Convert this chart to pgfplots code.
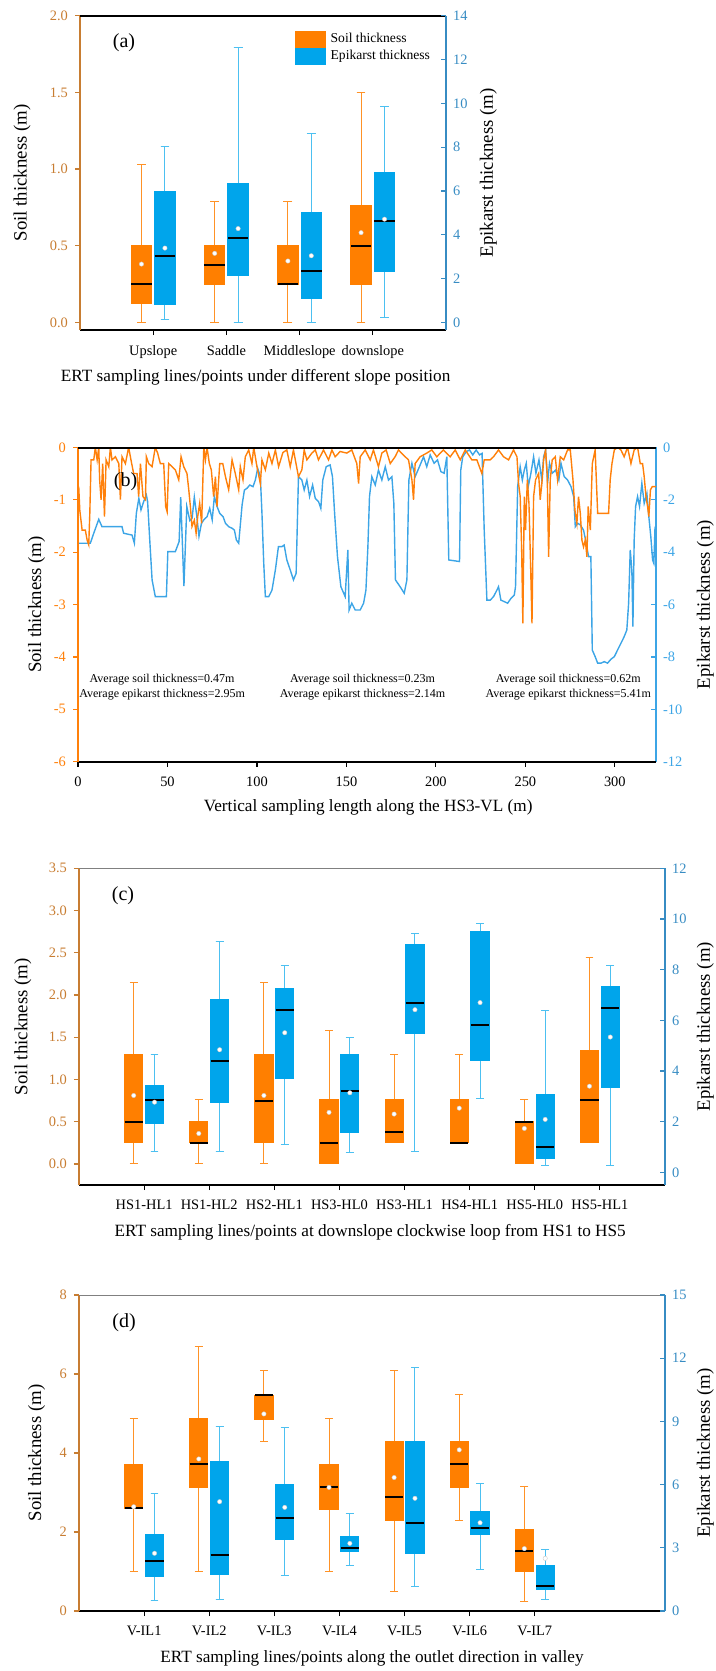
\documentclass[border=0pt]{standalone}
\usepackage{fontspec}
\setmainfont{Liberation Serif}
\usepackage{pgfplots}
\usepackage{pgfplotstable}
\pgfplotsset{compat=1.18}
\usepgfplotslibrary{statistics}

\definecolor{soilc}{RGB}{255,127,0}
\definecolor{epic}{RGB}{0,165,235}
\definecolor{laxis}{RGB}{200,125,50}
\definecolor{raxis}{RGB}{55,140,195}
\definecolor{bline}{RGB}{60,165,230}
\definecolor{oline}{RGB}{255,128,10}

\newcommand{\tickf}{\fontsize{7.2}{8}\selectfont}
\newcommand{\labf}{\fontsize{9.4}{10}\selectfont}
\newcommand{\xlabf}{\fontsize{8.6}{10}\selectfont}

\pgfplotsset{
  leftax/.style={scale only axis, anchor=south west,
    axis x line*=bottom, axis y line*=left,
    x axis line style={black, line width=0.7pt},
    y axis line style={laxis, line width=0.7pt},
    tick align=outside, major tick length=2.5pt,
    x tick style={black, line width=0.6pt},
    y tick style={laxis, line width=0.6pt},
    yticklabel style={font=\tickf, text=laxis},
    xticklabel style={font=\tickf, text=black, yshift=-1.5pt},
    ylabel style={font=\labf, anchor=center},
    xlabel style={font=\xlabf, anchor=center}},
  rightax/.style={scale only axis, anchor=south west,
    axis x line=none, axis y line*=right,
    y axis line style={raxis, line width=0.7pt},
    tick align=inside, major tick length=2.5pt,
    y tick style={raxis, line width=0.6pt},
    yticklabel style={font=\tickf, text=raxis},
    ylabel style={font=\labf, anchor=center}},
  soilbox/.style={forget plot, fill=soilc, draw=soilc, line width=0.5pt,
    boxplot/draw direction=y,
    boxplot/box extend=0.28, boxplot/whisker extend=0.12,
    boxplot/every whisker/.style={draw=soilc!85, line width=0.5pt},
    boxplot/every median/.style={draw=black, line width=1pt}},
  epibox/.style={forget plot, fill=epic, draw=epic, line width=0.5pt,
    boxplot/draw direction=y,
    boxplot/box extend=0.28, boxplot/whisker extend=0.12,
    boxplot/every whisker/.style={draw=epic!70, line width=0.5pt},
    boxplot/every median/.style={draw=black, line width=1pt}},
  meanmk/.style={forget plot, only marks, mark=*, mark size=1.1pt,
    mark options={fill=white, draw=gray!40, line width=0.2pt}},
}

% #1 table, #2 last row, #3 offset, #4 style
\newcommand{\boxes}[4]{%
  \pgfplotsinvokeforeach{0,...,#2}{
    \pgfplotstablegetelem{##1}{lw}\of{#1}\let\bLW\pgfplotsretval
    \pgfplotstablegetelem{##1}{lq}\of{#1}\let\bLQ\pgfplotsretval
    \pgfplotstablegetelem{##1}{med}\of{#1}\let\bMED\pgfplotsretval
    \pgfplotstablegetelem{##1}{uq}\of{#1}\let\bUQ\pgfplotsretval
    \pgfplotstablegetelem{##1}{uw}\of{#1}\let\bUW\pgfplotsretval
    \pgfmathsetmacro\bPOS{##1+1#3}
    \edef\bCMD{\noexpand\addplot[#4, boxplot prepared={draw direction=y, draw position=\bPOS,
      lower whisker=\bLW, lower quartile=\bLQ, median=\bMED,
      upper quartile=\bUQ, upper whisker=\bUW}] coordinates {};}
    \bCMD
  }
  \addplot[meanmk] table[x expr=\thisrow{pos}#3, y=mean] {#1};
}

% panel (a)
\pgfplotstableread{
pos lw lq med uq uw mean
1 0 0.12 0.25 0.50 1.03 0.38
2 0 0.25 0.375 0.50 0.79 0.45
3 0 0.25 0.25 0.50 0.79 0.40
4 0 0.25 0.50 0.76 1.50 0.585
}\soilA
\pgfplotstableread{
pos lw lq med uq uw mean
1 0.15 0.82 3.02 5.97 8.03 3.39
2 0 2.16 3.87 6.34 12.53 4.28
3 0 1.08 2.33 5.02 8.60 3.04
4 0.23 2.30 4.62 6.84 9.85 4.71
}\epiA
% panel (c)
\pgfplotstableread{
pos lw lq med uq uw mean
1 0 0.25 0.50 1.30 2.15 0.81
2 0 0.25 0.25 0.50 0.76 0.36
3 0 0.25 0.75 1.30 2.15 0.81
4 0 0 0.25 0.76 1.58 0.61
5 0.25 0.25 0.38 0.76 1.30 0.59
6 0.25 0.25 0.25 0.76 1.30 0.66
7 0 0 0.50 0.50 0.76 0.42
8 0.25 0.25 0.76 1.34 2.44 0.92
}\soilC
\pgfplotstableread{
pos lw lq med uq uw mean
1 0.82 1.94 2.84 3.41 4.66 2.77
2 0.82 2.75 4.40 6.82 9.13 4.84
3 1.11 3.70 6.42 7.25 8.18 5.51
4 0.77 1.56 3.23 4.66 5.34 3.14
5 0.82 5.47 6.70 8.99 9.43 6.42
6 2.90 4.40 5.80 9.49 9.82 6.70
7 0.26 0.53 1.02 3.06 6.40 2.09
8 0.26 3.33 6.50 7.35 8.18 5.34
}\epiC
% panel (d)
\pgfplotstableread{
pos lw lq med uq uw mean
1 1.00 2.60 2.60 3.71 4.88 2.64
2 1.00 3.13 3.71 4.88 6.69 3.85
3 4.29 4.86 5.46 5.46 6.08 4.99
4 1.00 2.58 3.13 3.71 4.88 3.13
5 0.49 2.29 2.88 4.29 6.08 3.38
6 2.30 3.13 3.71 4.29 5.47 4.08
7 0.25 1.00 1.53 2.07 3.15 1.58
}\soilD
\pgfplotstableread{
pos lw lq med uq uw mean
1 0.49 1.66 2.37 3.64 5.59 2.74
2 0.55 1.71 2.64 7.09 8.78 5.19
3 1.68 3.40 4.43 6.01 8.72 4.92
4 2.18 2.82 2.97 3.56 4.64 3.21
5 1.15 2.74 4.19 8.07 11.57 5.35
6 1.95 3.61 3.92 4.72 6.06 4.19
7 0.57 1.03 1.19 2.18 2.90 2.50
}\epiD
% panel (b) profiles
\pgfplotstableread{
x y
0 -3.66
6.9 -3.66
8.8 -3.28
11.6 -2.75
13.4 -3.03
24.6 -3.03
25.5 -3.28
30.2 -3.35
31.5 -3.66
32.6 -2.52
34.0 -1.95
35.2 -2.39
36.7 -2.07
38.2 -1.82
38.9 -2.07
40.1 -3.54
41.4 -5.06
43.2 -5.70
49.4 -5.70
50.2 -3.98
54.4 -3.98
56.5 -3.60
57.4 -1.90
59.2 -5.30
60.8 -2.26
62.5 -2.80
63.8 -2.70
65.0 -1.90
66.3 -2.58
67.6 -3.40
69.0 -2.90
70.3 -2.77
72.1 -2.65
73.6 -2.33
75.0 -2.77
76.2 -1.88
77.7 -2.26
79.2 -2.52
81.1 -2.65
82.4 -2.90
84.2 -3.03
86.1 -3.09
87.4 -3.16
88.5 -3.54
89.8 -3.66
91.7 -2.20
93.0 -1.63
94.5 -1.56
96.0 -1.44
97.8 -1.50
99.1 -1.25
100.4 -0.80
101.9 -1.12
102.8 -2.52
103.8 -4.43
104.7 -5.70
106.6 -5.70
108.4 -5.45
110.3 -4.68
112.0 -3.79
114.0 -3.79
115.2 -3.73
116.7 -4.30
118.6 -4.68
120.4 -5.06
121.9 -4.81
123.2 -1.12
125.1 -1.25
126.4 -1.63
127.9 -1.25
129.4 -1.88
131.1 -1.44
132.6 -1.95
134.4 -2.07
135.7 -2.33
136.8 -1.25
138.7 -0.74
140.9 -0.67
142.2 -1.12
143.4 -2.52
145.0 -4.17
146.9 -5.32
149.3 -5.70
150.8 -3.92
151.5 -6.21
153.0 -5.95
154.9 -6.21
157.7 -6.21
159.6 -5.95
160.9 -5.45
162.0 -3.79
162.9 -1.88
164.2 -1.12
166.1 -1.44
167.9 -0.87
169.8 -1.25
171.7 -0.74
173.5 -1.25
175.4 -1.12
176.5 -2.14
177.4 -5.06
180.0 -5.32
182.3 -5.57
183.8 -5.06
184.9 -1.25
186.6 -0.61
188.4 -1.12
190.8 -0.74
193.1 -0.36
194.9 -0.74
196.8 -0.29
199.0 -0.61
200.9 -0.48
202.8 -0.93
204.6 -0.99
206.1 -0.36
207.2 -4.30
213.2 -4.36
213.9 -0.87
215.0 -0.36
216.9 -0.17
218.8 -0.10
220.6 -0.29
222.5 -0.10
224.4 -0.29
225.8 -0.23
227.0 -3.16
228.5 -5.83
230.4 -5.83
232.2 -5.70
234.1 -5.45
235.0 -5.32
236.3 -5.83
238.2 -5.89
240.1 -5.95
242.0 -5.76
243.8 -5.64
244.5 -5.32
245.7 -1.50
247.1 -0.74
248.3 -1.25
249.4 -0.87
250.5 -0.61
251.6 -1.50
253.1 -0.99
254.6 -0.36
255.9 -0.99
257.6 -0.48
259.2 -1.25
260.2 -0.36
261.3 -0.10
262.4 -1.37
263.5 -0.61
265.0 -0.99
266.9 -0.87
268.7 -1.25
269.9 -0.61
271.7 -1.12
273.6 -1.25
275.5 -1.50
277.0 -1.88
277.9 -3.03
279.2 -2.90
280.7 -2.96
282.5 -3.16
284.0 -3.66
285.3 -4.17
286.6 -4.17
287.4 -7.74
289.0 -7.99
290.4 -8.24
292.2 -8.24
294.1 -8.18
295.9 -8.24
297.8 -8.09
299.7 -7.99
301.5 -7.74
303.4 -7.48
305.2 -7.23
306.7 -6.97
307.7 -5.95
308.6 -3.92
309.5 -4.68
310.1 -6.84
310.8 -3.54
311.6 -2.26
312.7 -1.88
313.8 -2.26
315.1 -1.37
316.4 -2.14
317.9 -1.76
319.0 -2.65
320.1 -3.41
321.1 -4.30
321.8 -4.43
322.4 -3.16
323.0 -3.28
}\epiB
\pgfplotstableread{
x y
0.4 -0.75
1.0 -1.20
2.3 -1.58
4.1 -1.58
5.1 -1.77
6.0 -1.86
6.6 -1.26
7.3 -0.24
8.8 -0.24
9.7 0
10.7 -0.24
11.6 0
12.1 -0.62
12.9 -1.00
13.8 -0.31
14.8 -1.32
15.7 -0.24
17.2 -0.37
18.1 0
19.0 -0.24
20.9 -0.18
22.8 -0.31
23.7 -1.00
24.6 -0.18
26.5 -0.31
28.3 0
29.6 -0.24
31.1 -0.50
33.0 -0.50
33.9 -0.94
34.9 -0.31
36.3 -0.94
37.7 -1.00
38.2 -0.18
39.5 -0.31
41.4 -0.37
43.2 0
44.5 -0.11
46.0 -0.31
47.9 -0.31
49.0 -1.13
49.8 -1.23
50.7 -0.31
52.6 -0.37
54.4 -0.43
56.3 -0.62
57.6 -0.18
59.1 -0.37
60.9 -0.50
61.9 -0.81
62.8 -1.13
63.7 -1.51
65.0 -1.39
66.0 -1.64
66.9 -1.32
68.0 -1.07
69.1 -1.45
70.3 0
71.2 -0.24
72.1 0
73.4 -0.31
74.5 -0.43
75.8 -0.94
76.8 -0.56
77.7 -1.13
79.2 -0.31
80.9 -0.31
82.4 -0.56
84.2 -0.81
86.1 -0.24
87.9 -0.50
89.8 -0.81
90.7 -0.37
92.2 -0.62
93.5 -0.18
95.4 -0.05
97.2 -0.31
98.2 0
100.0 -0.37
101.9 -0.69
102.8 -0.24
104.7 -0.43
106.6 -0.11
108.4 -0.31
110.3 -0.05
112.1 -0.37
114.5 -0.10
116.7 -0.05
118.6 -0.37
120.4 -0.05
123.2 -0.56
125.1 -0.43
126.4 -0.05
127.9 -0.24
130.7 -0.11
132.6 -0.05
134.4 -0.24
137.2 -0.05
140.0 -0.24
141.9 -0.05
143.7 -0.18
146.5 -0.08
150.2 -0.11
153.0 -0.05
155.8 -0.31
156.8 -0.69
157.7 -0.18
160.5 -0.05
163.3 -0.24
165.1 -0.05
167.9 -0.37
169.8 -0.11
172.2 -0.05
174.5 -0.31
177.2 -0.18
179.1 -0.05
181.9 -0.15
184.7 -0.24
186.6 -0.62
187.5 -1.00
188.4 -0.31
191.2 -0.18
194.9 -0.11
197.7 -0.05
200.5 -0.18
204.2 -0.05
208.0 -0.18
210.8 -0.05
213.6 -0.24
216.4 -0.05
220.1 -0.24
222.9 -0.24
225.7 -0.50
227.0 -0.24
230.3 -0.24
232.2 -0.18
235.0 -0.05
237.8 -0.18
240.6 -0.24
243.4 -0.05
245.3 -0.18
246.2 -0.69
247.1 -0.94
247.9 -1.90
248.6 -3.36
249.4 -0.94
250.1 -1.58
251.1 -0.62
252.0 -1.07
252.9 -2.21
253.7 -3.36
254.6 -0.94
255.7 -0.62
257.4 -0.50
258.3 -1.00
259.4 -0.62
260.2 -0.24
261.3 -0.05
262.2 -0.50
263.0 -2.09
263.9 -0.62
265.0 -0.24
266.7 -0.18
268.0 -0.62
269.5 -0.18
271.4 -0.24
273.6 -0.05
275.1 -0.05
276.6 -0.62
277.7 -1.20
278.8 -1.45
279.7 -0.94
280.7 -1.26
281.6 -1.77
282.5 -1.90
283.5 -1.77
284.4 -2.09
285.1 -1.13
286.3 -1.58
287.4 -0.31
289.0 -0.05
290.4 -1.26
292.8 -1.26
294.6 -1.26
296.5 -1.26
297.4 -0.62
298.4 -0.31
299.7 -0.05
301.5 0
303.4 -0.05
305.2 -0.18
307.1 0
309.0 -0.31
310.8 -0.05
312.7 0
314.2 -0.31
315.5 -0.31
316.4 -0.56
317.4 -0.94
318.3 -1.13
319.0 -1.32
319.9 -0.81
320.9 -0.75
323.0 -0.75
}\soilB

\begin{document}
\begin{tikzpicture}
\useasboundingbox (0,0) rectangle (358pt,-835.5pt);

% ---------------- (a)
\begin{axis}[leftax, at={(40pt,-165pt)}, width=183pt, height=157.15pt,
  xmin=0, xmax=5, ymin=-0.05, ymax=2,
  xtick={1,2,3,4}, xticklabels={Upslope,Saddle,Middleslope,downslope},
  ytick={0,0.5,1,1.5,2}, yticklabels={0.0,0.5,1.0,1.5,2.0},
  ylabel={Soil thickness (m)}, xlabel={ERT sampling lines/points under different slope position},
  ylabel style={at={(axis description cs:-0.158,0.5)}},
  xlabel style={at={(axis description cs:0.48,-0.15)}},
  legend style={draw=none, fill=none, at={(0.586,0.954)}, anchor=north west,
    font=\fontsize{6.8}{7}\selectfont, inner sep=0pt, row sep=0.3pt, column sep=2.5pt,
    nodes={inner sep=0pt}},
  legend cell align=left]
\addlegendimage{legend image code/.code={\fill[soilc] (0pt,-4pt) rectangle (15pt,4pt);}}
\addlegendentry{Soil thickness}
\addlegendimage{legend image code/.code={\fill[epic] (0pt,-4pt) rectangle (15pt,4pt);}}
\addlegendentry{Epikarst thickness}
\boxes{\soilA}{3}{-0.16}{soilbox}
\draw[black, line width=1.2pt] (rel axis cs:0,1) -- (rel axis cs:1,1);
\end{axis}
\begin{axis}[rightax, at={(40pt,-165pt)}, width=183pt, height=157.15pt,
  xmin=0, xmax=5, ymin=-0.35, ymax=14,
  ytick={0,2,...,14}, yticklabels={0,2,4,6,8,10,12,14},
  ylabel={Epikarst thickness (m)},
  ylabel style={at={(axis description cs:1.116,0.5)}}]
\boxes{\epiA}{3}{+0.16}{epibox}
\end{axis}

% ---------------- (b)
\begin{axis}[rightax, at={(39pt,-380.85pt)}, width=289pt, height=157.2pt,
  xmin=0, xmax=323, ymin=-12, ymax=0,
  y axis line style={bline, line width=0.8pt}, y tick style={bline}, yticklabel style={text=bline},
  ytick={-12,-10,...,0}, yticklabels={-12,-10,-8,-6,-4,-2,0},
  ylabel={Epikarst thickness (m)},
  ylabel style={at={(axis description cs:1.0855,0.5)}}]
\addplot[bline, line width=0.7pt] table {\epiB};
\end{axis}
\begin{axis}[leftax, at={(39pt,-380.85pt)}, width=289pt, height=157.2pt,
  xmin=0, xmax=323, ymin=-6, ymax=0,
  y axis line style={oline, line width=0.8pt}, y tick style={oline}, yticklabel style={text=oline},
  xtick={0,50,...,300}, xticklabels={0,50,100,150,200,250,300},
  ytick={-6,-5,...,0}, yticklabels={-6,-5,-4,-3,-2,-1,0},
  ylabel={Soil thickness (m)}, xlabel={Vertical sampling length along the HS3-VL (m)},
  ylabel style={at={(axis description cs:-0.0716,0.5)}},
  xlabel style={at={(axis description cs:0.502,-0.144)}},
  x axis line style={line width=1pt}]
\addplot[oline, line width=0.7pt] table {\soilB};
\draw[black, line width=1.2pt] (rel axis cs:0,1) -- (rel axis cs:1,1);
\node[font=\fontsize{6}{7.5}\selectfont, align=center] at (axis cs:47,-4.58)
  {Average soil thickness=0.47m\\Average epikarst thickness=2.95m};
\node[font=\fontsize{6}{7.5}\selectfont, align=center] at (axis cs:159,-4.58)
  {Average soil thickness=0.23m\\Average epikarst thickness=2.14m};
\node[font=\fontsize{6}{7.5}\selectfont, align=center] at (axis cs:274,-4.58)
  {Average soil thickness=0.62m\\Average epikarst thickness=5.41m};
\end{axis}

% ---------------- (c)
\begin{axis}[leftax, at={(39.5pt,-592.5pt)}, width=293pt, height=158.35pt,
  xmin=0, xmax=9, ymin=-0.25, ymax=3.5,
  xtick={1,...,8}, xticklabels={HS1-HL1,HS1-HL2,HS2-HL1,HS3-HL0,HS3-HL1,HS4-HL1,HS5-HL0,HS5-HL1},
  ytick={0,0.5,...,3.5}, yticklabels={0.0,0.5,1.0,1.5,2.0,2.5,3.0,3.5},
  ylabel={Soil thickness (m)}, xlabel={ERT sampling lines/points at downslope clockwise loop from HS1 to HS5},
  ylabel style={at={(axis description cs:-0.096,0.5)}},
  xlabel style={at={(axis description cs:0.497,-0.148)}}]
\boxes{\soilC}{7}{-0.16}{soilbox}
\draw[gray, line width=0.7pt] (rel axis cs:0,1) -- (rel axis cs:1,1);
\end{axis}
\begin{axis}[rightax, at={(39.5pt,-592.5pt)}, width=293pt, height=158.35pt,
  xmin=0, xmax=9, ymin=-0.5, ymax=12,
  ytick={0,2,...,12}, yticklabels={0,2,4,6,8,10,12},
  ylabel={Epikarst thickness (m)},
  ylabel style={at={(axis description cs:1.069,0.5)}}]
\boxes{\epiC}{7}{+0.16}{epibox}
\end{axis}

% ---------------- (d)
\begin{axis}[leftax, at={(39.5pt,-805.5pt)}, width=293pt, height=158pt,
  xmin=0, xmax=9, ymin=0, ymax=8,
  xtick={1,...,7}, xticklabels={V-IL1,V-IL2,V-IL3,V-IL4,V-IL5,V-IL6,V-IL7},
  ytick={0,2,...,8}, yticklabels={0,2,4,6,8},
  ylabel={Soil thickness (m)}, xlabel={ERT sampling lines/points along the outlet direction in valley},
  ylabel style={at={(axis description cs:-0.0724,0.5)}},
  xlabel style={at={(axis description cs:0.5,-0.149)}}]
\boxes{\soilD}{6}{-0.16}{soilbox}
\draw[gray, line width=0.7pt] (rel axis cs:0,1) -- (rel axis cs:1,1);
\end{axis}
\begin{axis}[rightax, at={(39.5pt,-805.5pt)}, width=293pt, height=158pt,
  xmin=0, xmax=9, ymin=0, ymax=15,
  ytick={0,3,...,15}, yticklabels={0,3,6,9,12,15},
  ylabel={Epikarst thickness (m)},
  ylabel style={at={(axis description cs:1.069,0.5)}}]
\boxes{\epiD}{6}{+0.16}{epibox}
\end{axis}

% panel letters
\node[font=\fontsize{10}{12}\selectfont] at (62pt,-21.5pt) {(a)};
\node[font=\fontsize{10}{12}\selectfont] at (62.8pt,-240.8pt) {(b)};
\node[font=\fontsize{10}{12}\selectfont] at (61.5pt,-448pt) {(c)};
\node[font=\fontsize{10}{12}\selectfont] at (62pt,-661.5pt) {(d)};
\end{tikzpicture}
\end{document}
